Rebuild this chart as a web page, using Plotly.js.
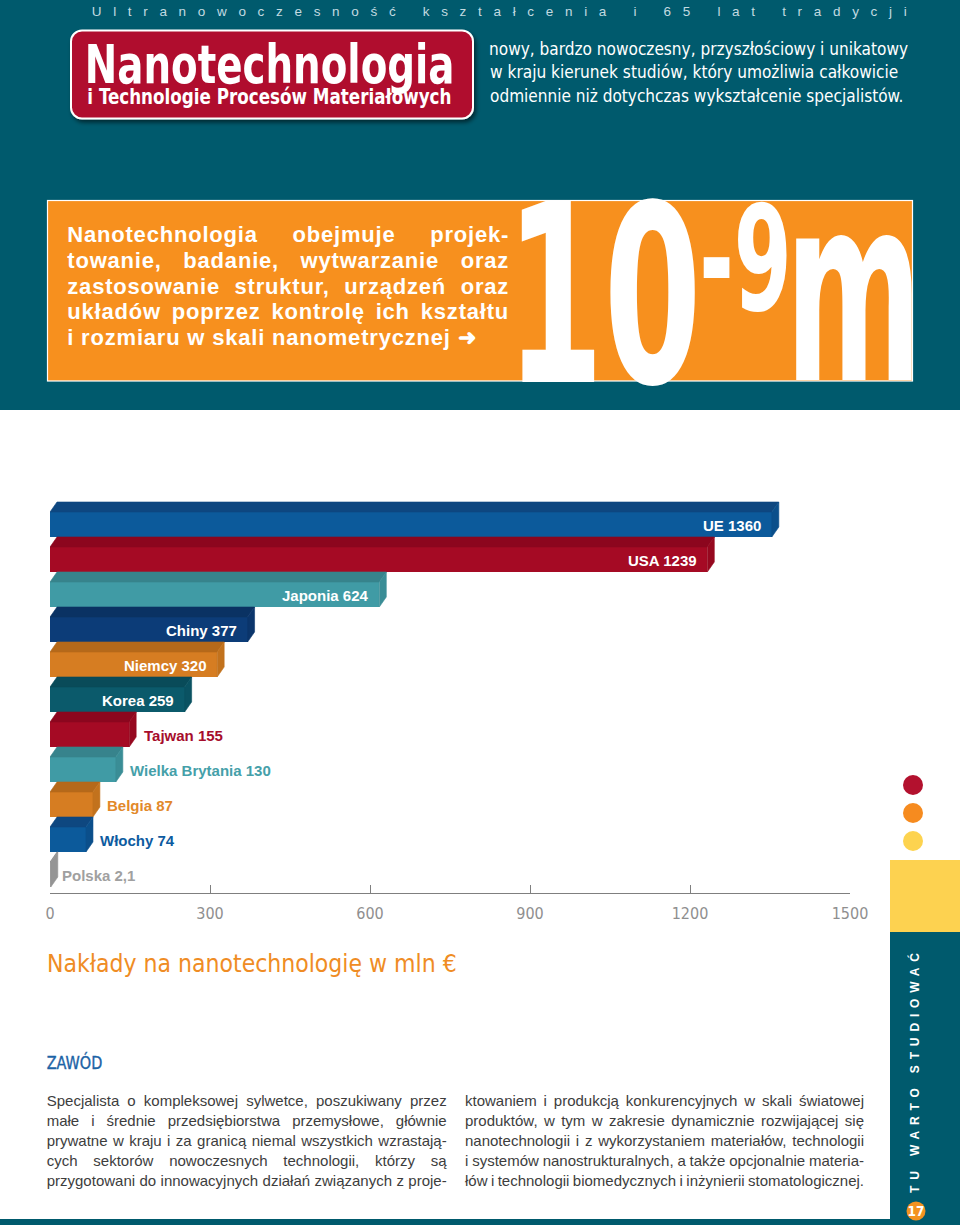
<!DOCTYPE html>
<html><head><meta charset="utf-8">
<script src="https://cdn.plot.ly/plotly-3.0.1.min.js"></script>
<style>
html,body{margin:0;padding:0;width:960px;height:1225px;overflow:hidden;background:#fff;}
#bg,#fg{position:absolute;left:0;top:0;width:960px;height:1225px;}
#fg{pointer-events:none;}
#chart{position:absolute;left:0;top:470px;width:960px;height:520px;}
.para{position:absolute;}
.line{display:block;white-space:nowrap;width:max-content;}
</style></head>
<body>
<svg id="bg" xmlns="http://www.w3.org/2000/svg" width="960" height="1225">
  <defs>
    <filter id="sh" x="-10%" y="-10%" width="130%" height="140%">
      <feDropShadow dx="2" dy="3" stdDeviation="2" flood-color="#000" flood-opacity="0.55"/>
    </filter>
  </defs>
  <rect x="0" y="0" width="960" height="410" fill="#005a6d"/>
  <rect x="71" y="30.5" width="402" height="88" rx="11" fill="#b0102e" stroke="#fff" stroke-width="2" filter="url(#sh)"/>
  <rect x="47.5" y="200.5" width="865" height="180.5" fill="#f7901e" stroke="#fff" stroke-width="1.2"/>
  <rect x="890" y="860" width="70" height="72" fill="#fdd250"/>
  <rect x="890" y="932" width="70" height="293" fill="#005a6d"/>
  <rect x="0" y="1219" width="960" height="6" fill="#005a6d"/>
  <circle cx="913" cy="785" r="10" fill="#b3112e"/>
  <circle cx="913" cy="813" r="10" fill="#f68b1f"/>
  <circle cx="913" cy="841" r="10" fill="#fdd34f"/>
  <circle cx="916" cy="1211" r="9.5" fill="#f39220"/>
</svg>

<div id="chart"></div>

<div class="para" id="orangeText" style="left:67.3px;top:221.7px;font-weight:bold;font-size:22px;font-family:'Liberation Sans',Arial,sans-serif;letter-spacing:0.8px;line-height:25.9px;color:#fff;">
  <div class="line j" data-w="441">Nanotechnologia obejmuje projek-</div>
  <div class="line j" data-w="441">towanie, badanie, wytwarzanie oraz</div>
  <div class="line j" data-w="441">zastosowanie struktur, urządzeń oraz</div>
  <div class="line j" data-w="441">układów poprzez kontrolę ich kształtu</div>
  <div class="line">i rozmiaru w skali nanometrycznej ➜</div>
</div>

<div class="para" style="left:46.7px;top:1090.5px;font-size:15px;font-family:'Liberation Sans',Arial,sans-serif;line-height:20px;color:#3d3d3d;">
  <div class="line j" data-w="400">Specjalista o kompleksowej sylwetce, poszukiwany przez</div>
  <div class="line j" data-w="400">małe i średnie przedsiębiorstwa przemysłowe, głównie</div>
  <div class="line j" data-w="400">prywatne w kraju i za granicą niemal wszystkich wzrastają-</div>
  <div class="line j" data-w="400">cych sektorów nowoczesnych technologii, którzy są</div>
  <div class="line j" data-w="400">przygotowani do innowacyjnych działań związanych z proje-</div>
</div>
<div class="para" style="left:465px;top:1090.5px;font-size:15px;font-family:'Liberation Sans',Arial,sans-serif;line-height:20px;color:#3d3d3d;">
  <div class="line j" data-w="399">ktowaniem i produkcją konkurencyjnych w skali światowej</div>
  <div class="line j" data-w="399">produktów, w tym w zakresie dynamicznie rozwijającej się</div>
  <div class="line j" data-w="399">nanotechnologii i z wykorzystaniem materiałów, technologii</div>
  <div class="line j" data-w="399">i systemów nanostrukturalnych, a także opcjonalnie materia-</div>
  <div class="line j" data-w="399">łów i technologii biomedycznych i inżynierii stomatologicznej.</div>
</div>

<svg id="fg" xmlns="http://www.w3.org/2000/svg" width="960" height="1225"></svg>

<script>
// ---------------- DATA ----------------
const categories = ['UE','USA','Japonia','Chiny','Niemcy','Korea','Tajwan','Wielka Brytania','Belgia','Włochy','Polska'];
const values = [1360,1239,624,377,320,259,155,130,87,74,2.1];
const valueLabels = ['1360','1239','624','377','320','259','155','130','87','74','2,1'];
const tickValues = [0,300,600,900,1200,1500];
const tickLabels = ['0','300','600','900','1200','1500'];
const chartTitle = 'Nakłady na nanotechnologię w mln €';

// ---------------- STYLES ----------------
const frontColors = ['#0c5a9b','#a50a24','#409ba5','#0c3c78','#d67d22','#0b5a6b','#a50a24','#409ba5','#d67d22','#0c5a9b','#a3a3a3'];
const topColors   = ['#0e4780','#8c061e','#37838c','#0a3263','#b5691a','#094b59','#8c061e','#37838c','#b5691a','#0e4780','#8a8a8a'];
const sideColors  = ['#0b4f8b','#96081f','#3a8d96','#0b356b','#c2721d','#0a5262','#96081f','#3a8d96','#c2721d','#0b4f8b','#959595'];
const labelInside = [true,true,true,true,true,true,false,false,false,false,false];
const labelColors = ['#fff','#fff','#fff','#fff','#fff','#fff','#a60d2c','#45a0a9','#e2892a','#0d5ba0','#a0a0a0'];

const NARROW = '"Liberation Sans Narrow","DejaVu Sans Condensed",Arial,sans-serif';
const SANS = '"Liberation Sans",Arial,Helvetica,sans-serif';

// ---------------- PAGE TEXT ----------------
const NS = 'http://www.w3.org/2000/svg';
const fg = document.getElementById('fg');
const ctx = document.createElement('canvas').getContext('2d');
function svgText(parent, str, attrs){
  const t = document.createElementNS(NS,'text');
  for (const k in attrs) t.setAttribute(k, attrs[k]);
  t.textContent = str; parent.appendChild(t); return t;
}
// scale text so its ink fills x0..x1 horizontally, and (if top given) top..baseline vertically
function fitText(parent, str, o){
  const size = o.size || 100, wt = o.weight || 'normal', fam = o.family || NARROW;
  ctx.font = wt + ' ' + size + 'px ' + fam;
  const m = ctx.measureText(str);
  const inkL = -m.actualBoundingBoxLeft;
  const inkW = m.actualBoundingBoxRight + m.actualBoundingBoxLeft;
  const asc = m.actualBoundingBoxAscent;
  const sx = (o.x1 - o.x0) / inkW;
  const sy = (o.top != null) ? (o.baseline - o.top) / asc : 1;
  const a = {x:0, y:0,
    transform:'translate(' + (o.x0 - inkL*sx) + ',' + o.baseline + ') scale(' + sx + ',' + sy + ')',
    'font-family':fam, 'font-size':size, 'font-weight':wt, fill:o.fill};
  if (o.stroke) { a.stroke = o.stroke; a['stroke-width'] = o.sw; }
  return svgText(parent, str, a);
}

svgText(fg, 'Ultranowoczesność kształcenia i 65 lat tradycji', {x:91.7, y:15.5, textLength:815, lengthAdjust:'spacing', 'font-family':SANS, 'font-size':13.5, fill:'#c3dbe1'});
fitText(fg, 'Nanotechnologia', {x0:88.3, x1:451.7, top:41.7, baseline:82.7, weight:'bold', size:50, fill:'#fff'});
fitText(fg, 'i Technologie Procesów Materiałowych', {x0:88.3, x1:450.7, top:86.8, baseline:104, weight:'bold', size:20, fill:'#fff'});
fitText(fg, 'nowy, bardzo nowoczesny, przyszłościowy i unikatowy', {x0:490, x1:908, baseline:54.5, size:17.5, fill:'#fff'});
fitText(fg, 'w kraju kierunek studiów, który umożliwia całkowicie', {x0:490, x1:898, baseline:78, size:17.5, fill:'#fff'});
fitText(fg, 'odmiennie niż dotychczas wykształcenie specjalistów.', {x0:490, x1:903, baseline:101.5, size:17.5, fill:'#fff'});
fitText(fg, '10', {x0:521.7, x1:695, top:198, baseline:382, weight:'bold', size:200, fill:'#fff'});
fitText(fg, '-9', {x0:703, x1:787, top:201.7, baseline:310, weight:'bold', size:120, fill:'#fff'});
fitText(fg, 'm', {x0:796, x1:911.7, top:235, baseline:380, weight:'bold', size:150, fill:'#fff'});
fitText(fg, 'ZAWÓD', {x0:46.7, x1:101.7, top:1052.7, baseline:1069.3, size:20, fill:'#1c63a6', stroke:'#1c63a6', sw:0.4});
svgText(fg, 'TU WARTO STUDIOWAĆ', {x:919.3, y:1193, transform:'rotate(-90 919.3 1193)', textLength:240, lengthAdjust:'spacing', 'font-family':SANS, 'font-weight':'bold', 'font-size':12, fill:'#fff'});
svgText(fg, '17', {x:916, y:1215.6, 'text-anchor':'middle', 'font-family':NARROW, 'font-weight':'bold', 'font-size':13.5, fill:'#fff'});

// justify lines by word spacing
document.querySelectorAll('.j').forEach(e => {
  e.style.wordSpacing = '0px';
  const w = e.getBoundingClientRect().width;
  const ls = parseFloat(getComputedStyle(e).letterSpacing) || 0;
  const n = (e.textContent.match(/ /g) || []).length;
  const W = parseFloat(e.dataset.w) + ls;
  if (n > 0) e.style.wordSpacing = ((W - w) / n) + 'px';
});

// ---------------- CHART ----------------
const PLOT_W = 800, X_MAX = 1500;
const UPX = X_MAX / PLOT_W;          // data units per pixel
const PITCH = 35;                    // px per category
const HALF = 12.5 / PITCH;           // half height of front face
const DY = 10 / PITCH;               // depth (vertical)
const DX = 7 * UPX;                  // depth (horizontal)
const SH = 3.5 * UPX;

const idx = categories.map((c, i) => i);
const traces = [];
categories.forEach((c, i) => {
  const vf = Math.max(values[i] - SH, 1.5);
  const vb = vf + DX;
  traces.push({type:'scatter', mode:'lines', fill:'toself', fillcolor:topColors[i],
    line:{width:0.6, color:topColors[i]}, hoverinfo:'skip',
    x:[0, vf, vb, DX, 0], y:[i-HALF, i-HALF, i-HALF-DY, i-HALF-DY, i-HALF]});
  traces.push({type:'scatter', mode:'lines', fill:'toself', fillcolor:sideColors[i],
    line:{width:0.6, color:sideColors[i]}, hoverinfo:'skip',
    x:[vf, vb, vb, vf, vf], y:[i-HALF, i-HALF-DY, i+HALF-DY, i+HALF, i-HALF]});
});
traces.unshift({type:'bar', orientation:'h', base:0,
  x: values.map(v => Math.max(v - SH, 1.5)), y: idx, width: 2*HALF,
  marker:{color:frontColors, line:{width:0}}, hoverinfo:'skip'});

const annotations = categories.map((c, i) => ({
  x: values[i], y: i, xref:'x', yref:'y', showarrow:false,
  text: c + ' ' + valueLabels[i],
  xanchor: labelInside[i] ? 'right' : 'left',
  xshift: labelInside[i] ? -12 : 9, yshift: -1,
  font:{family:SANS, size:15, color:labelColors[i], weight:'bold'}
}));

const layout = {
  width:960, height:520,
  margin:{l:50, r:110, t:20, b:97},
  paper_bgcolor:'rgba(0,0,0,0)', plot_bgcolor:'rgba(0,0,0,0)',
  showlegend:false, bargap:0,
  title:{text:chartTitle, xref:'container', yref:'container', x:0.049, xanchor:'left', y:0.052, yanchor:'middle',
    font:{family:NARROW, size:24.5, color:'#ef8c24'}},
  xaxis:{range:[0, X_MAX], tickvals:tickValues, ticktext:tickLabels, ticks:'inside', ticklen:8,
    tickcolor:'#7f7f7f', tickwidth:1, showline:true, linecolor:'#7f7f7f', linewidth:1,
    showgrid:false, zeroline:false, ticklabelstandoff:6,
    tickfont:{family:NARROW, size:16, color:'#8f8f8f'}, fixedrange:true},
  yaxis:{range:[(893-524.5)/PITCH, (490-524.5)/PITCH], visible:false, fixedrange:true},
  annotations: annotations
};
Plotly.newPlot('chart', traces, layout, {staticPlot:true, displayModeBar:false});
</script>
</body></html>
